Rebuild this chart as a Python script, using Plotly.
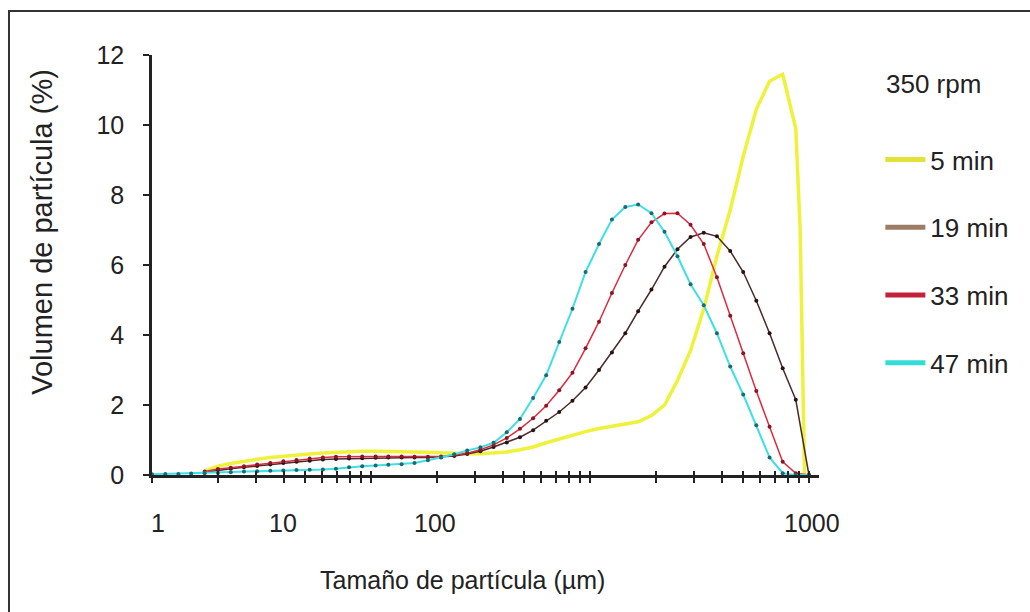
import plotly.graph_objects as go

# Particle size classes (µm)
sizes = [1.00, 1.15, 1.32, 1.51, 1.74, 2.00, 2.29, 2.63, 3.02, 3.47,
         3.98, 4.57, 5.25, 6.03, 6.92, 7.94, 9.12, 10.5, 12.0, 13.8,
         15.8, 18.2, 20.9, 24.0, 27.5, 31.6, 36.3, 41.7, 47.9, 55.0,
         63.1, 72.4, 83.2, 95.5, 110, 126, 145, 166, 191, 219,
         251, 288, 331, 380, 437, 501, 575, 661, 759, 871, 1000]

vol_47 = [0.02, 0.03, 0.03, 0.04, 0.05, 0.06, 0.08, 0.10, 0.11, 0.12,
          0.13, 0.14, 0.15, 0.16, 0.18, 0.22, 0.25, 0.27, 0.29, 0.31,
          0.34, 0.42, 0.50, 0.59, 0.70, 0.79, 0.92, 1.22, 1.60, 2.20,
          2.85, 3.80, 4.75, 5.80, 6.60, 7.30, 7.66, 7.73, 7.48, 6.95,
          6.25, 5.45, 4.85, 4.05, 3.10, 2.30, 1.42, 0.50, 0.05, 0.00, 0.00]

vol_33 = [None, None, None, None, 0.10, 0.17, 0.21, 0.25, 0.30, 0.34,
          0.39, 0.43, 0.47, 0.50, 0.52, 0.53, 0.53, 0.53, 0.53, 0.53,
          0.52, 0.52, 0.53, 0.57, 0.62, 0.72, 0.86, 1.06, 1.32, 1.62,
          1.98, 2.42, 2.92, 3.62, 4.38, 5.20, 6.00, 6.72, 7.22, 7.47,
          7.48, 7.15, 6.60, 5.65, 4.55, 3.48, 2.40, 1.38, 0.38, 0.05, 0.00]

vol_19 = [None, None, None, None, 0.08, 0.14, 0.18, 0.22, 0.26, 0.30,
          0.34, 0.38, 0.41, 0.44, 0.46, 0.47, 0.48, 0.49, 0.50, 0.50,
          0.50, 0.50, 0.51, 0.54, 0.60, 0.68, 0.80, 0.93, 1.08, 1.28,
          1.55, 1.80, 2.12, 2.50, 3.00, 3.50, 4.05, 4.68, 5.30, 5.95,
          6.45, 6.80, 6.92, 6.82, 6.40, 5.80, 4.98, 4.05, 3.05, 2.15, 0.00]

sizes_5 = [1.74, 2.00, 2.29, 2.63, 3.02, 3.47,
           3.98, 4.57, 5.25, 6.03, 6.92, 7.94, 9.12, 10.5, 12.0, 13.8,
           15.8, 18.2, 20.9, 24.0, 27.5, 31.6, 36.3, 41.7, 47.9, 55.0,
           63.1, 72.4, 83.2, 95.5, 110, 126, 145, 166, 191, 219,
           251, 288, 331, 380, 437, 501, 575, 661, 759, 871, 912, 933, 955]
vol_5 = [0.12, 0.25, 0.33, 0.40, 0.45, 0.50,
         0.54, 0.58, 0.60, 0.63, 0.65, 0.67, 0.68, 0.68, 0.68, 0.67,
         0.66, 0.65, 0.63, 0.62, 0.61, 0.61, 0.63, 0.66, 0.72, 0.80,
         0.92, 1.03, 1.13, 1.24, 1.33, 1.40, 1.45, 1.52, 1.70, 2.00,
         2.70, 3.55, 4.75, 6.25, 7.57, 9.10, 10.45, 11.25, 11.45, 9.90, 7.00, 3.50, 0.00]

legend_title = "350 rpm"
series_names = ["5 min", "19 min", "33 min", "47 min"]
legend_colors = ["#e2e23a", "#9c7c64", "#c3213a", "#34dcd6"]

x_label_text = ["1", "10", "100", "1000"]
x_label_pos = [0.009, 0.196, 0.424, 0.990]   # where the reference prints the labels (paper fraction)
x_ticks = [1, 2, 3, 4, 5, 6, 7, 8, 9, 10, 20, 30, 40, 50, 60, 70, 80, 90,
           100, 200, 300, 400, 500, 600, 700, 800, 900, 1000]
y_ticks = [0, 2, 4, 6, 8, 10, 12]

x_title = "Tamaño de partícula (µm)"
y_title = "Volumen de partícula (%)"

FONT = "Liberation Sans, Arial, sans-serif"
FS = 25
INK = "#222"

fig = go.Figure()

fig.add_trace(go.Scatter(x=sizes_5, y=vol_5, mode="lines",
                         line=dict(color="#eef23a", width=3.5),
                         showlegend=False, hoverinfo="skip"))
fig.add_trace(go.Scatter(x=sizes, y=vol_19, mode="lines+markers",
                         line=dict(color="#4a2a2a", width=1.5),
                         marker=dict(color="#2a1212", size=4),
                         showlegend=False))
fig.add_trace(go.Scatter(x=sizes, y=vol_33, mode="lines+markers",
                         line=dict(color="#dc2a3e", width=1.5),
                         marker=dict(color="#8a1424", size=4),
                         showlegend=False))
fig.add_trace(go.Scatter(x=sizes, y=vol_47, mode="lines+markers",
                         line=dict(color="#3ee0e4", width=2),
                         marker=dict(color="#1c6a70", size=4),
                         showlegend=False))

# legend entries
for i, (name, col) in enumerate(zip(series_names, legend_colors)):
    fig.add_trace(go.Scatter(x=[None], y=[None], mode="lines", name=name,
                             line=dict(color=col, width=5),
                             legendgroup=f"g{i}", showlegend=True))

# overlay axis to get ticks crossing the x axis line
fig.add_trace(go.Scatter(x=[None], y=[None], xaxis="x2", yaxis="y",
                         showlegend=False, hoverinfo="skip"))

annotations = []
for txt, pos in zip(x_label_text, x_label_pos):
    annotations.append(dict(text=txt, xref="paper", yref="paper", x=pos, y=-0.114,
                            xanchor="center", yanchor="middle", showarrow=False,
                            font=dict(size=FS, family=FONT, color=INK)))
annotations.append(dict(text=x_title, xref="paper", yref="paper", x=0.466, y=-0.25,
                        xanchor="center", yanchor="middle", showarrow=False,
                        font=dict(size=FS, family=FONT, color=INK)))
annotations.append(dict(text=y_title, xref="paper", yref="paper", x=-0.165, y=0.579,
                        xanchor="center", yanchor="middle", showarrow=False,
                        textangle=-90,
                        font=dict(size=29, family=FONT, color=INK)))
annotations.append(dict(text=legend_title, xref="paper", yref="paper", x=1.097, y=0.931,
                        xanchor="left", yanchor="middle", showarrow=False,
                        font=dict(size=26, family=FONT, color=INK)))

fig.update_layout(
    width=1030, height=612,
    margin=dict(l=152, r=211, t=55, b=137, autoexpand=False),
    paper_bgcolor="white", plot_bgcolor="white",
    font=dict(family=FONT, size=FS, color=INK),
    xaxis=dict(type="log", range=[0, 3.046], showgrid=False, zeroline=False,
               showline=True, linecolor=INK, linewidth=2.5,
               ticks="outside", ticklen=5, tickwidth=1.5, tickcolor=INK,
               tickmode="array", tickvals=x_ticks, showticklabels=False),
    xaxis2=dict(type="log", range=[0, 3.046], overlaying="x", anchor="y",
                side="bottom", showgrid=False, zeroline=False, showline=False,
                ticks="inside", ticklen=4, tickwidth=1.5, tickcolor=INK,
                tickmode="array", tickvals=x_ticks, showticklabels=False),
    yaxis=dict(range=[0, 12], showgrid=False, zeroline=False,
               showline=True, linecolor=INK, linewidth=2.5,
               ticks="outside", ticklen=6, tickwidth=1.5, tickcolor=INK,
               tickmode="array", tickvals=y_ticks,
               ticklabelstandoff=14,
               tickfont=dict(size=FS, family=FONT, color=INK)),
    legend=dict(x=1.092, xanchor="left", y=0.807, yanchor="top",
                bgcolor="rgba(0,0,0,0)", borderwidth=0,
                font=dict(size=26, family=FONT, color=INK),
                tracegroupgap=31, itemwidth=40),
    annotations=annotations,
    shapes=[dict(type="rect", xref="paper", yref="paper",
                 x0=-0.2144, x1=1.35, y0=-0.40, y1=1.1048,
                 line=dict(color="#333", width=2), fillcolor="rgba(0,0,0,0)",
                 layer="below")],
)

fig.write_html("out.html")
